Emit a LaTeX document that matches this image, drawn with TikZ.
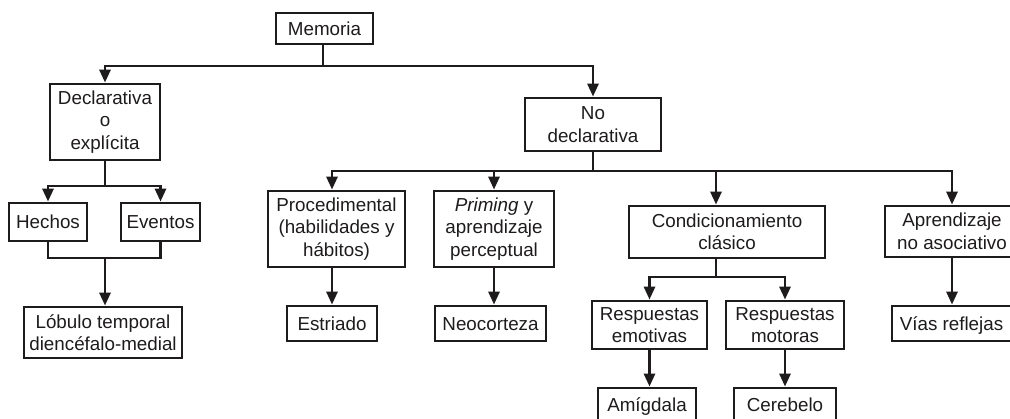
\documentclass[tikz,border=0pt]{standalone}
\usepackage{fontspec}
\setmainfont{Liberation Sans}
\usetikzlibrary{arrows.meta,calc}
\definecolor{ink}{RGB}{30,27,28}
\newcommand{\mystrut}{\rule[-4pt]{0pt}{21.5pt}}
\begin{document}
\begin{tikzpicture}[x=1pt,y=-1pt,
  box/.style={draw=ink, line width=2.8pt, text=ink, align=center, inner sep=0pt,
    font=\fontsize{18.8}{22.5}\selectfont},
  link/.style={draw=ink, line width=2.8pt},
  arr/.style={link, -{Triangle[width=11pt,length=13pt]}},
]
\fill[white] (0,0) rectangle (1010,418);
\useasboundingbox (0,0) rectangle (1010,418);

% boxes
\node[box, minimum width=97pt,  minimum height=31pt] (mem)    at (324.5,28.5) {\mystrut Memoria};
\node[box, minimum width=110pt, minimum height=76pt] (decl)   at (105,122)    {Declarativa\\o\\explícita};
\node[box, minimum width=136pt, minimum height=53pt] (nodecl) at (593,124.5)  {No\\declarativa};
\node[box, minimum width=78pt,  minimum height=38pt] (hechos) at (48,222)     {\mystrut Hechos};
\node[box, minimum width=79pt,  minimum height=38pt] (event)  at (160.5,222)  {\mystrut Eventos};
\node[box, minimum width=158pt, minimum height=51pt] (lobulo) at (103,332.5)  {Lóbulo temporal\\diencéfalo-medial};
\node[box, minimum width=137pt, minimum height=76pt] (proc)   at (336.5,229)  {Procedimental\\(habilidades y\\hábitos)};
\node[box, minimum width=120pt, minimum height=76pt] (prim)   at (494,229)    {\textit{Priming} y\\aprendizaje\\perceptual};
\node[box, minimum width=90pt,  minimum height=35pt] (estr)   at (332,323.5)  {\mystrut Estriado};
\node[box, minimum width=111pt, minimum height=35pt] (neo)    at (490.5,323.5){\mystrut Neocorteza};
\node[box, minimum width=196pt, minimum height=52pt] (cond)   at (727,232)    {Condicionamiento\\clásico};
\node[box, minimum width=134pt, minimum height=51pt] (apren)  at (952,231.5)  {Aprendizaje\\no asociativo};
\node[box, minimum width=115pt, minimum height=48pt] (remo)   at (649.5,325)  {Respuestas\\emotivas};
\node[box, minimum width=118pt, minimum height=48pt] (rmot)   at (785,325)    {Respuestas\\motoras};
\node[box, minimum width=98pt,  minimum height=33pt] (amig)   at (647,404.5)  {\mystrut Amígdala};
\node[box, minimum width=102pt, minimum height=33pt] (cere)   at (785,404.5)  {\mystrut Cerebelo};
\node[box, minimum width=119pt, minimum height=35pt] (vias)   at (951.5,323.5){\mystrut Vías reflejas};

% junction points
\coordinate (j1) at (323,66);
\coordinate (j2) at (105,186);
\coordinate (j3) at (105,258);
\coordinate (j4) at (593,171);
\coordinate (j5) at (716,277);
\coordinate (cx) at (716,0);

% Memoria
\draw[link] (mem.south -| j1) -- (j1);
\draw[arr] (j1) -| (decl.north);
\draw[arr] (j1) -| (nodecl.north);

% Declarativa
\draw[link] (decl.south) -- (j2);
\draw[arr] (j2) -| (hechos.north);
\draw[arr] (j2) -| (event.north);
\draw[link] (hechos.south) |- (event.south |- j3) -- (event.south);
\draw[arr] (j3) -- (j3 |- lobulo.north);

% No declarativa
\draw[link] (nodecl.south) -- (j4);
\draw[arr] (j4) -| (proc.north -| estr.north);
\draw[arr] (j4) -| (prim.north);
\draw[arr] (j4) -| (cond.north -| cx);
\draw[arr] (j4) -| (apren.north);

% second level down
\draw[arr] (proc.south -| estr.north) -- (estr.north);
\draw[arr] (prim.south) -- (prim.south |- neo.north);
\draw[arr] (apren.south) -- (apren.south |- vias.north);

% Condicionamiento
\draw[link] (cond.south -| j5) -- (j5);
\draw[arr] (j5) -| (remo.north);
\draw[arr] (j5) -| (rmot.north);
\draw[arr] (remo.south) -- (remo.south |- amig.north);
\draw[arr] (rmot.south) -- (rmot.south |- cere.north);
\end{tikzpicture}
\end{document}
